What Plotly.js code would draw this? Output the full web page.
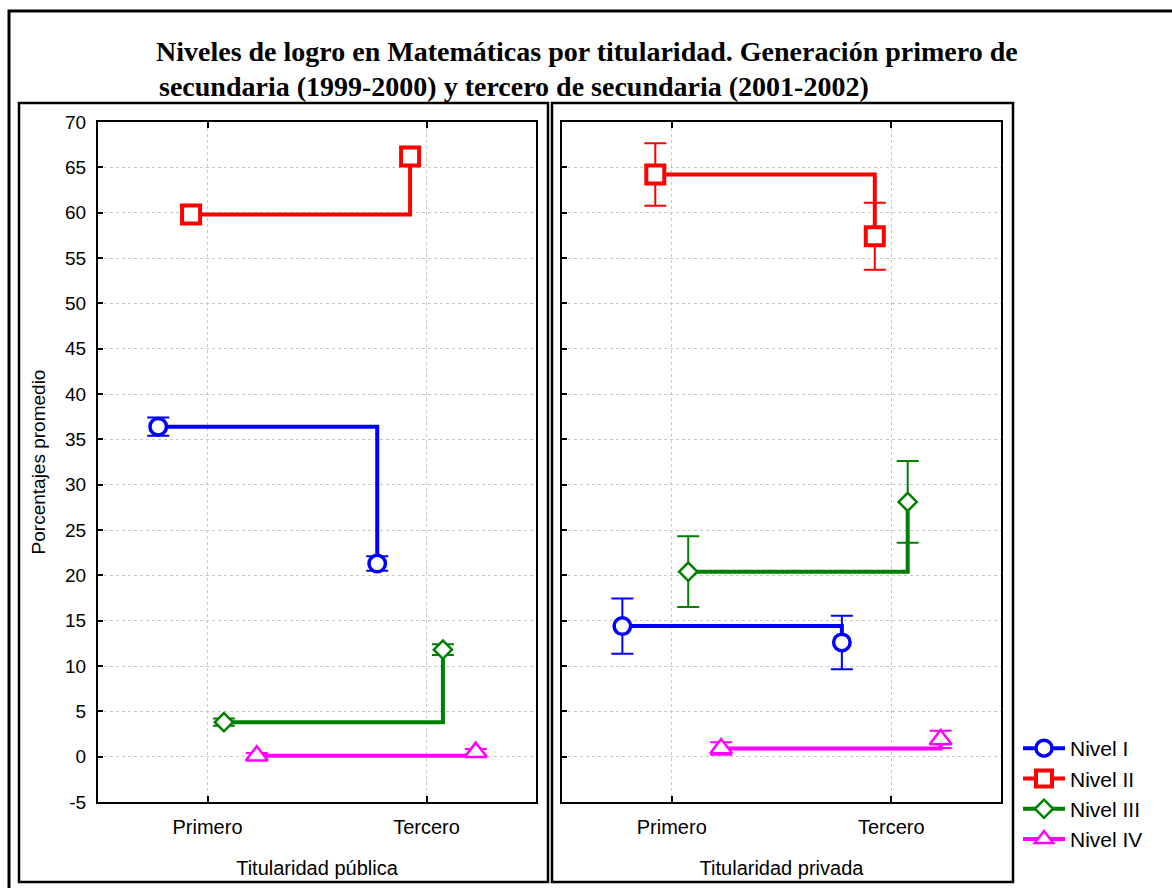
<!DOCTYPE html>
<html>
<head>
<meta charset="utf-8">
<script src="https://cdn.plot.ly/plotly-3.0.1.min.js"></script>
<style>
  html, body { margin: 0; padding: 0; background: #ffffff; }
  #chart { width: 1172px; height: 888px; }
</style>
</head>
<body>
<div id="chart"></div>
<script>
// ---- Data ----
const categorias = ['Primero', 'Tercero'];
const niveles = ['Nivel I', 'Nivel II', 'Nivel III', 'Nivel IV'];
const paneles = ['Titularidad pública', 'Titularidad privada'];

// Titularidad pública: media y semiamplitud del intervalo
const publicaNivelI = [36.4, 21.3];
const publicaNivelIErr = [1.0, 0.8];
const publicaNivelII = [59.8, 66.2];
const publicaNivelIIErr = [1.0, 1.0];
const publicaNivelIII = [3.8, 11.8];
const publicaNivelIIIErr = [0.4, 0.6];
const publicaNivelIV = [0.1, 0.5];
const publicaNivelIVErr = [0.3, 0.35];

// Titularidad privada
const privadaNivelI = [14.4, 12.6];
const privadaNivelIErr = [3.05, 2.95];
const privadaNivelII = [64.2, 57.4];
const privadaNivelIIErr = [3.45, 3.7];
const privadaNivelIII = [20.4, 28.1];
const privadaNivelIIIErr = [3.9, 4.5];
const privadaNivelIV = [0.9, 1.9];
const privadaNivelIVErr = [0.7, 0.95];

const yTicks = [-5, 0, 5, 10, 15, 20, 25, 30, 35, 40, 45, 50, 55, 60, 65, 70];

// ---- Styles ----
const colores = ['#0000ff', '#ff0000', '#008000', '#ff00ff'];
const simbolos = ['circle', 'square', 'diamond', 'triangle-up'];
const tamanos = [16.5, 18, 14, 19];
const bordes = [3.5, 4, 2.5, 2.5];
const desplaz = [-0.225, -0.075, 0.075, 0.225];

const datosPanel = [
  [[publicaNivelI, publicaNivelIErr], [publicaNivelII, publicaNivelIIErr],
   [publicaNivelIII, publicaNivelIIIErr], [publicaNivelIV, publicaNivelIVErr]],
  [[privadaNivelI, privadaNivelIErr], [privadaNivelII, privadaNivelIIErr],
   [privadaNivelIII, privadaNivelIIIErr], [privadaNivelIV, privadaNivelIVErr]]
];

const traces = [];
datosPanel.forEach((panel, p) => {
  panel.forEach(([vals, errs], s) => {
    traces.push({
      type: 'scatter',
      mode: 'lines+markers',
      name: niveles[s],
      legendgroup: niveles[s],
      showlegend: p === 0,
      x: categorias.map((c, i) => i + desplaz[s]),
      y: vals,
      xaxis: p === 0 ? 'x' : 'x2',
      yaxis: p === 0 ? 'y' : 'y2',
      line: { color: colores[s], width: 4, shape: 'hv' },
      marker: {
        symbol: simbolos[s], size: tamanos[s], color: '#ffffff',
        line: { color: colores[s], width: bordes[s] }
      },
      error_y: { type: 'data', array: errs, visible: true, color: colores[s], thickness: 2, width: 11 },
      hoverinfo: 'x+y'
    });
  });
});

const W = 1172, H = 888;
const px = v => v / W;
const py = v => 1 - v / H;

const textFont = { family: 'Liberation Sans, Arial', size: 20, color: '#000' };
const yDomain = [py(802), py(122)];
const baseX = {
  range: [-0.5, 1.5], tickvals: [0, 1], ticktext: categorias,
  ticks: 'inside', ticklen: 6, tickwidth: 2, tickcolor: '#000',
  showline: true, linecolor: '#000', linewidth: 2, mirror: 'ticks',
  showgrid: true, gridcolor: '#c8c8c8', griddash: 'dot', gridwidth: 1,
  zeroline: false, fixedrange: true,
  tickfont: textFont,
  ticklabelstandoff: 6,
  title: { font: textFont, standoff: 24 }
};
const baseY = {
  range: [-5, 70], tickvals: yTicks, ticktext: yTicks.map(String), domain: yDomain,
  ticks: 'inside', ticklen: 5, tickwidth: 2, tickcolor: '#000',
  showline: true, linecolor: '#000', linewidth: 2, mirror: true,
  showgrid: true, gridcolor: '#c8c8c8', griddash: 'dot', gridwidth: 1,
  zeroline: false, fixedrange: true,
  tickfont: { family: 'Liberation Sans, Arial', size: 19, color: '#000' }
};
const sideY = {
  range: [-5, 70], tick0: 3.4, dtick: 25 / 3, domain: yDomain,
  side: 'right', ticks: 'inside', ticklen: 5, tickwidth: 2, tickcolor: '#000',
  showticklabels: false, showgrid: false, showline: false, zeroline: false, fixedrange: true
};

const layout = {
  width: W, height: H,
  margin: { l: 0, r: 0, t: 0, b: 0 },
  paper_bgcolor: '#ffffff', plot_bgcolor: '#ffffff',
  font: { family: 'Liberation Sans, Arial', color: '#000' },
  showlegend: true,
  legend: {
    x: px(1018), xanchor: 'left', y: py(728), yanchor: 'top',
    font: { family: 'Liberation Sans, Arial', size: 21, color: '#000' },
    itemwidth: 42,
    bgcolor: 'rgba(0,0,0,0)', tracegroupgap: 0
  },
  xaxis: Object.assign({}, baseX, { domain: [px(98), px(536)], anchor: 'y',
    title: Object.assign({}, baseX.title, { text: paneles[0] }) }),
  xaxis2: Object.assign({}, baseX, { domain: [px(562), px(1001)], anchor: 'y2',
    title: Object.assign({}, baseX.title, { text: paneles[1] }) }),
  yaxis: Object.assign({}, baseY, { anchor: 'x',
    ticklabelstandoff: 6,
    title: { text: 'Porcentajes promedio', font: { family: 'Liberation Sans, Arial', size: 19, color: '#000' }, standoff: 14 } }),
  yaxis2: Object.assign({}, baseY, { anchor: 'x2', showticklabels: false }),
  yaxis3: Object.assign({}, sideY, { anchor: 'x', overlaying: 'y' }),
  yaxis4: Object.assign({}, sideY, { anchor: 'x2', overlaying: 'y2' }),
  annotations: [
    { text: '<b>Niveles de logro en Matemáticas por titularidad. Generación primero de</b>',
      xref: 'paper', yref: 'paper', x: px(154), y: py(52), xanchor: 'left', yanchor: 'middle',
      showarrow: false, font: { family: 'Liberation Serif, Times New Roman', size: 28, color: '#000' } },
    { text: '<b>secundaria (1999-2000) y tercero de secundaria (2001-2002)</b>',
      xref: 'paper', yref: 'paper', x: px(157), y: py(86), xanchor: 'left', yanchor: 'middle',
      showarrow: false, font: { family: 'Liberation Serif, Times New Roman', size: 28, color: '#000' } }
  ],
  shapes: [
    { type: 'rect', xref: 'paper', yref: 'paper', x0: px(9), x1: px(1180), y0: py(900), y1: py(11),
      line: { color: '#000', width: 3 }, layer: 'below' },
    { type: 'rect', xref: 'paper', yref: 'paper', x0: px(19), x1: px(548), y0: py(882), y1: py(103),
      line: { color: '#000', width: 2.5 }, layer: 'below' },
    { type: 'rect', xref: 'paper', yref: 'paper', x0: px(552), x1: px(1013), y0: py(882), y1: py(103),
      line: { color: '#000', width: 2.5 }, layer: 'below' }
  ]
};

Plotly.newPlot('chart', traces, layout, { displayModeBar: false, staticPlot: true });
</script>
</body>
</html>
